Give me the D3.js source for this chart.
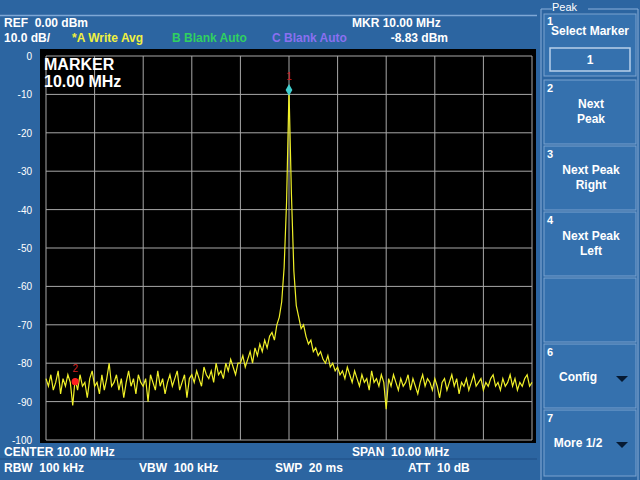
<!DOCTYPE html>
<html><head><meta charset="utf-8">
<script src="https://cdn.jsdelivr.net/npm/d3@7"></script>
<style>body{margin:0;background:#2c65a1;}svg{display:block;font-family:"Liberation Sans",Arial,sans-serif;}text{white-space:pre;}</style>
</head><body>
<svg id="c" width="640" height="480"></svg>
<script>
const startMHz = 5, stepMHz = 0.05;
const levels = [
-84,-86,-83,-87,-85,-82,-88,-84,-86,-83,-85,-91,-84,-87,-83,-86,-85,-89,-84,-82,-86,-85,-88,-83,-87,-84,-80,-86,-85,-83,-87,-84,-89,-85,-82,-86,-84,-88,-83,-85,-86,-84,-90,-83,-85,-87,-82,-86,-84,-88,-85,-83,-86,-84,-82,-87,-85,-83,-89,-84,
-83,-85,-82,-84,-86,-81,-83,-84,-82,-85,-80,-83,-82,-84,-80,-82,-79,-81,-83,-80,
-80,-78,-81,-79,-77,-80,-76,-78,-75,-77,-74,-76,-73,-72,-74,-70,-68,-64,-55,-38,
-8.83,
-36,-56,-65,-68,-71,-70,-73,-75,-74,-77,-76,-78,-77,-79,-80,-78,-81,-80,-82,
-81,-83,-82,-84,-81,-83,-85,-82,-84,-86,-83,-85,-84,-87,-82,-85,-84,-86,-83,-85,
-92,-84,-86,-83,-85,-87,-84,-86,-85,-83,-87,-84,-86,-88,-85,-83,-86,-84,-85,-87,
-84,-86,-89,-85,-84,-87,-85,-83,-86,-84,-88,-85,-86,-84,-87,-85,-83,-86,-85,-84,
-87,-85,-86,-84,-83,-86,-85,-87,-84,-86,-85,-83,-86,-84,-87,-85,-86,-84,-83,-86,-85];
const yTicks = [0,-10,-20,-30,-40,-50,-60,-70,-80,-90,-100];
const xGrid = [5,6,7,8,9,10,11,12,13,14,15];
const markers = [{id:"1", f:10.0, db:-8.83, color:"#40d0d0", shape:"diamond"},{id:"2", f:5.6, db:-84.8, color:"#ff2020", shape:"circle"}];
const menuItems = [
 {n:"2", lines:["Next","Peak"], y:80, h:64},
 {n:"3", lines:["Next Peak","Right"], y:146, h:64},
 {n:"4", lines:["Next Peak","Left"], y:212, h:64},
 {n:"", lines:[], y:278, h:64},
 {n:"6", lines:["Config"], y:344, h:64, arrow:true},
 {n:"7", lines:["More 1/2"], y:410, h:66, arrow:true}];

const svg = d3.select("#c");
const W="#ffffff";
svg.append("line").attr("x1",0).attr("x2",537).attr("y1",15.5).attr("y2",15.5).attr("stroke","#7fa8d6").attr("stroke-width",1.5);
svg.append("line").attr("x1",0).attr("x2",537).attr("y1",459).attr("y2",459).attr("stroke","#1e4f85");
const T=(x,y,s,o={})=>svg.append("text").attr("x",x).attr("y",y).text(s).attr("fill",o.fill||W)
  .attr("font-size",o.size||12).attr("font-weight",o.w||"bold").attr("text-anchor",o.a||"start");
T(4,27,"REF  0.00 dBm"); T(4,42,"10.0 dB/");
T(72,42,"*A Write Avg",{fill:"#f0f040"}); T(172,42,"B Blank Auto",{fill:"#30d060"}); T(272,42,"C Blank Auto",{fill:"#8a70f0"});
T(352,27,"MKR 10.00 MHz"); T(448,42,"-8.83 dBm",{a:"end"});
T(4,456,"CENTER 10.00 MHz"); T(352,456,"SPAN  10.00 MHz");
T(4,472,"RBW  100 kHz"); T(139,472,"VBW  100 kHz"); T(275,472,"SWP  20 ms"); T(408,472,"ATT  10 dB");

const x = d3.scaleLinear().domain([5,15]).range([46,532]);
const y = d3.scaleLinear().domain([0,-100]).range([56,440]);
svg.append("rect").attr("x",40).attr("y",49).attr("width",496).attr("height",394).attr("fill","#000");
svg.append("g").selectAll("line").data(xGrid).join("line").attr("x1",d=>x(d)).attr("x2",d=>x(d)).attr("y1",y(0)).attr("y2",y(-100)).attr("stroke","#a8a8a8").attr("stroke-width",1);
svg.append("g").selectAll("line").data(yTicks).join("line").attr("x1",x(5)).attr("x2",x(15)).attr("y1",d=>y(d)).attr("y2",d=>y(d)).attr("stroke","#a8a8a8").attr("stroke-width",1);
svg.append("g").selectAll("text").data(yTicks).join("text").attr("x",32).attr("y",d=>y(d)+4).attr("text-anchor","end")
 .attr("fill",W).attr("font-size",10).text(d=>d);
T(44,70,"MARKER",{size:16}); T(44,87,"10.00 MHz",{size:16});
const data = levels.map((v,i)=>[startMHz+i*stepMHz,v]);
svg.append("path").datum(data).attr("d",d3.line().x(d=>x(d[0])).y(d=>y(d[1]))).attr("fill","none").attr("stroke","#f0f028").attr("stroke-width",1.2);
markers.forEach(m=>{
  const sym = d3.symbol().type(m.shape==="diamond"?d3.symbolDiamond:d3.symbolCircle).size(40);
  svg.append("path").attr("d",sym()).attr("transform",`translate(${x(m.f)},${y(m.db)})`).attr("fill",m.color);
  svg.append("text").attr("x",x(m.f)).attr("y",y(m.db)-10).attr("text-anchor","middle").attr("fill","#d02020").attr("font-size",10).text(m.id);
});
svg.append("path").attr("d","M541,480 V9 H552 M588,9 H638 V480").attr("fill","none").attr("stroke","#8ab0da").attr("stroke-width",1);
T(552,11,"Peak",{size:11,w:"normal"});
const bx=544,bw=92;
svg.append("rect").attr("x",bx).attr("y",14).attr("width",bw).attr("height",62).attr("fill","#3571ae").attr("stroke","#7aa3d0");
T(547,25,"1",{size:11}); T(590,35,"Select Marker",{size:12,a:"middle"});
svg.append("rect").attr("x",550).attr("y",48).attr("width",80).attr("height",23).attr("fill","none").attr("stroke","#b8d0ea").attr("stroke-width",1.5);
T(590,64,"1",{size:12,a:"middle"});
menuItems.forEach(it=>{
  svg.append("rect").attr("x",bx).attr("y",it.y).attr("width",bw).attr("height",it.h).attr("fill","#3571ae").attr("stroke","#7aa3d0");
  if(it.n) T(547,it.y+12,it.n,{size:11});
  const cx = it.arrow? 578:591;
  it.lines.forEach((l,i)=>T(cx,it.y+(it.lines.length===1?37:28)+i*15,l,{size:12,a:"middle"}));
  if(it.arrow) svg.append("path").attr("d",`M${616},${it.y+32} h12 l-6,6 z`).attr("fill","#061a33");
});
</script>
</body></html>
